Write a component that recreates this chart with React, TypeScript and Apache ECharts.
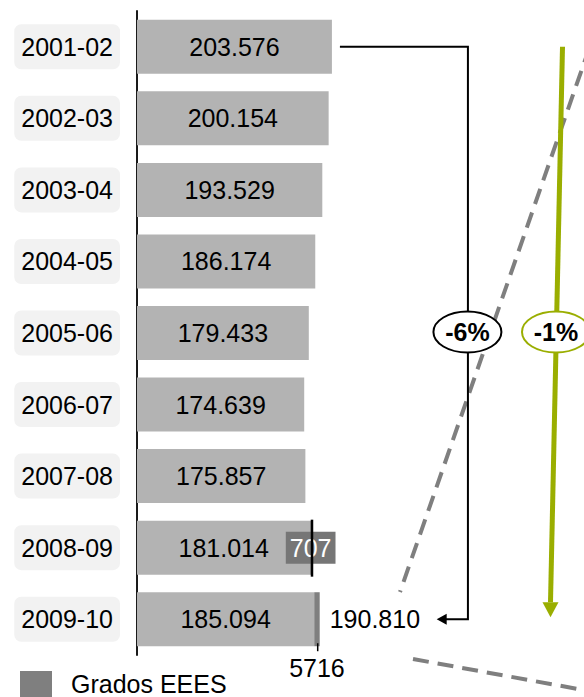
import React, { useEffect, useRef } from "react";
import * as echarts from "echarts";

const categories = ["2001-02", "2002-03", "2003-04", "2004-05", "2005-06", "2006-07", "2007-08", "2008-09", "2009-10"];
const alumnos = [203576, 200154, 193529, 186174, 179433, 174639, 175857, 181014, 185094];
const grados = [0, 0, 0, 0, 0, 0, 0, 707, 5716];
const changeTotal = "-6%";
const changeOther = "-1%";
const legendName = "Grados EEES";

const FONT = "Liberation Sans, Arial, sans-serif";
const fmt = (v: number) => (v / 1000).toFixed(3);

export default function App() {
  const ref = useRef<HTMLDivElement>(null);
  useEffect(() => {
    if (!ref.current) return;
    const chart = echarts.init(ref.current, null, { renderer: "svg" });
    const totals = alumnos.map((v, i) => v + grados[i]);
    const last = categories.length - 1;

    const gradosData = grados.map((v, i) => {
      if (i === last) {
        return {
          value: v,
          label: {
            show: true,
            position: "bottom",
            distance: 9,
            formatter: String(v),
            color: "#000",
            fontSize: 25,
            fontFamily: FONT,
          },
        };
      }
      if (v > 0) {
        return {
          value: v,
          label: {
            show: true,
            position: "inside",
            formatter: String(v),
            color: "#fff",
            fontSize: 25,
            fontFamily: FONT,
            backgroundColor: "#767676",
            padding: [3, 4, 2, 4],
            lineHeight: 27,
          },
        };
      }
      return { value: v, label: { show: false } };
    });

    chart.setOption({
      animation: false,
      grid: { left: 137, top: 11, bottom: 42, right: 64, containLabel: false },
      legend: {
        data: [{ name: legendName, icon: "rect" }],
        left: 15,
        top: 666,
        itemWidth: 32,
        itemHeight: 26,
        textStyle: { fontSize: 25, color: "#000", fontFamily: FONT, padding: [0, 0, 0, 14] },
        selectedMode: false,
      },
      xAxis: {
        type: "value",
        min: 0,
        max: 400000,
        show: false,
      },
      yAxis: {
        type: "category",
        data: categories,
        inverse: true,
        axisLine: { show: true, lineStyle: { color: "#1a1a1a", width: 2 } },
        axisTick: { show: false },
        splitLine: { show: false },
        axisLabel: {
          fontSize: 25,
          color: "#000",
          fontFamily: FONT,
          backgroundColor: "#f2f2f2",
          borderRadius: 7,
          padding: [9, 7, 9, 7],
          lineHeight: 27,
          margin: 17,
        },
      },
      series: [
        {
          name: "Alumnos",
          type: "bar",
          stack: "t",
          barWidth: 54,
          data: alumnos,
          itemStyle: { color: "#b3b3b3" },
          label: {
            show: true,
            position: "inside",
            formatter: (p: any) => fmt(p.value),
            color: "#000",
            fontSize: 25,
            fontFamily: FONT,
          },
        },
        {
          name: legendName,
          type: "bar",
          stack: "t",
          barWidth: 54,
          data: gradosData,
          itemStyle: { color: "#7f7f7f" },
        },
      ],
    });

    const px = (v: number, i: number) => chart.convertToPixel({ seriesIndex: 0 }, [v, i]) as number[];
    const top = px(totals[0], 0);
    const bot = px(totals[last], last);
    const g8 = px(totals[last - 1], last - 1);
    const bracketX = top[0] + 136;
    const labelX = bot[0] + 10;
    const arrowTip = bot[0] + 117;
    const midY = (top[1] + bot[1]) / 2 - 1;
    const green = "#9aae00";
    const gx1 = 562.5, gy1 = top[1];
    const gx2 = 550.5, gy2 = bot[1] - 17;

    chart.setOption({
      graphic: [
        // dashed grey lines
        { type: "line", shape: { x1: 606, y1: 0, x2: 400, y2: 592 }, style: { stroke: "#7f7f7f", lineWidth: 4, lineDash: [16, 9] }, z: 1 },
        { type: "line", shape: { x1: 413, y1: 659, x2: 600, y2: 693 }, style: { stroke: "#7f7f7f", lineWidth: 4, lineDash: [16, 9] }, z: 1 },
        // black marker lines at bar ends
        { type: "line", shape: { x1: g8[0] + 1, y1: g8[1] - 28, x2: g8[0] + 1, y2: g8[1] + 29 }, style: { stroke: "#000", lineWidth: 2.5 }, z: 10 },
        { type: "line", shape: { x1: bot[0] - 2, y1: bot[1] + 24, x2: bot[0] - 2, y2: bot[1] + 32 }, style: { stroke: "#000", lineWidth: 1.5 }, z: 10 },
        // total label
        {
          type: "text",
          x: labelX,
          y: bot[1],
          style: { text: fmt(totals[last]), font: `25px ${FONT}`, fill: "#000", textAlign: "left", textVerticalAlign: "middle", align: "left", verticalAlign: "middle" },
          z: 10,
        },
        // bracket
        {
          type: "polyline",
          shape: { points: [[top[0] + 8, top[1]], [bracketX, top[1]], [bracketX, bot[1]], [arrowTip + 8, bot[1]]] },
          style: { stroke: "#000", lineWidth: 2, fill: "none" },
          z: 5,
        },
        {
          type: "polygon",
          shape: { points: [[arrowTip, bot[1]], [arrowTip + 10, bot[1] - 5.5], [arrowTip + 10, bot[1] + 5.5]] },
          style: { fill: "#000" },
          z: 5,
        },
        { type: "ellipse", shape: { cx: bracketX - 0.5, cy: midY, rx: 34, ry: 20.5 }, style: { fill: "#fff", stroke: "#000", lineWidth: 2 }, z: 6 },
        {
          type: "text",
          x: bracketX - 0.5,
          y: midY,
          style: { text: changeTotal, font: `bold 25px ${FONT}`, fill: "#000", textAlign: "center", textVerticalAlign: "middle", align: "center", verticalAlign: "middle" },
          z: 7,
        },
        // green arrow
        { type: "line", shape: { x1: gx1, y1: gy1, x2: gx2, y2: gy2 }, style: { stroke: green, lineWidth: 5 }, z: 5 },
        {
          type: "polygon",
          shape: { points: [[gx2 - 8, gy2], [gx2 + 8, gy2], [gx2, gy2 + 15]] },
          style: { fill: green },
          z: 5,
        },
        { type: "ellipse", shape: { cx: 556, cy: midY, rx: 34, ry: 20.5 }, style: { fill: "#fff", stroke: green, lineWidth: 2 }, z: 6 },
        {
          type: "text",
          x: 556,
          y: midY,
          style: { text: changeOther, font: `bold 25px ${FONT}`, fill: "#000", textAlign: "center", textVerticalAlign: "middle", align: "center", verticalAlign: "middle" },
          z: 7,
        },
      ],
    });

    return () => chart.dispose();
  }, []);
  return <div ref={ref} style={{ position: "absolute", left: 0, top: 0, width: 584, height: 697 }} />;
}
